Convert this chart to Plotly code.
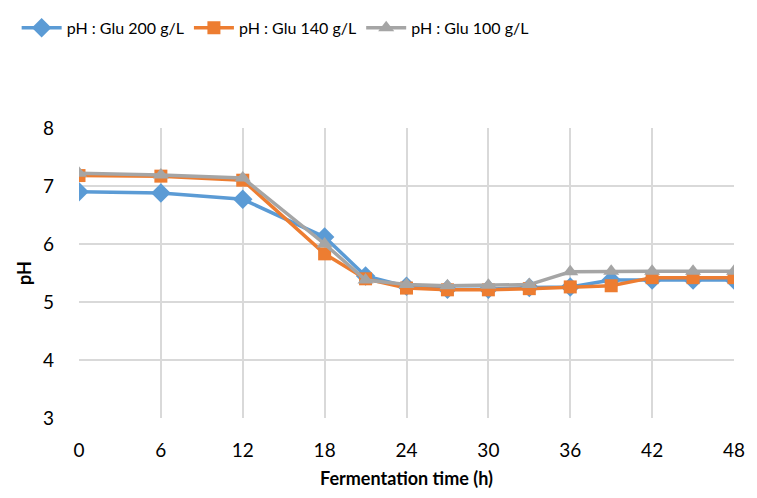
import plotly.graph_objects as go

# Fermentation time (h)
time_h = [0, 6, 12, 18, 21, 24, 27, 30, 33, 36, 39, 42, 45, 48]

# pH readings for each glucose concentration
ph_glu_200 = [6.90, 6.88, 6.77, 6.12, 5.45, 5.27, 5.22, 5.22, 5.25, 5.26, 5.38, 5.38, 5.38, 5.38]
ph_glu_140 = [7.18, 7.17, 7.10, 5.83, 5.40, 5.24, 5.21, 5.21, 5.23, 5.26, 5.28, 5.42, 5.42, 5.42]
ph_glu_100 = [7.22, 7.19, 7.14, 6.00, 5.38, 5.30, 5.28, 5.29, 5.30, 5.52, 5.53, 5.53, 5.53, 5.53]

x_ticks = [0, 6, 12, 18, 24, 30, 36, 42, 48]
y_ticks = [3, 4, 5, 6, 7, 8]

font_family = "Lato, Open Sans, sans-serif"

series = [
    ("pH : Glu 200 g/L", ph_glu_200, "#5b9bd5", "diamond", 15),
    ("pH : Glu 140 g/L", ph_glu_140, "#ed7d31", "square", 13),
    ("pH : Glu 100 g/L", ph_glu_100, "#a5a5a5", "triangle-up", 14),
]

fig = go.Figure()
for name, vals, color, symbol, size in series:
    fig.add_trace(go.Scatter(
        x=time_h, y=vals, name=name, mode="lines+markers",
        line=dict(color=color, width=3.5),
        marker=dict(symbol=symbol, size=size, color=color),
    ))

fig.update_layout(
    width=757, height=498,
    margin=dict(l=79, r=18, t=128, b=78),
    paper_bgcolor="white", plot_bgcolor="white",
    font=dict(family=font_family, size=19, color="#000000"),
    showlegend=True,
    legend=dict(orientation="h", x=0.022, xref="container", y=0.944, yref="container",
                xanchor="left", yanchor="middle",
                font=dict(size=16), itemwidth=40, tracegroupgap=0,
                bgcolor="rgba(0,0,0,0)"),
    xaxis=dict(range=[0, 48], tickvals=x_ticks, showgrid=True, gridcolor="#d9d9d9",
               gridwidth=1.5, zeroline=False, showline=False, ticks="",
               ticklabelstandoff=19,
               title=dict(text="<b>Fermentation time (h)</b>", font=dict(size=18), standoff=12)),
    yaxis=dict(range=[3, 8], tickvals=y_ticks, showgrid=True, gridcolor="#d9d9d9",
               gridwidth=1.5, zeroline=False, showline=False, ticks="",
               ticklabelstandoff=24,
               title=dict(text="<b>pH</b>", font=dict(size=18), standoff=6)),
)

fig.write_html("out.html")
